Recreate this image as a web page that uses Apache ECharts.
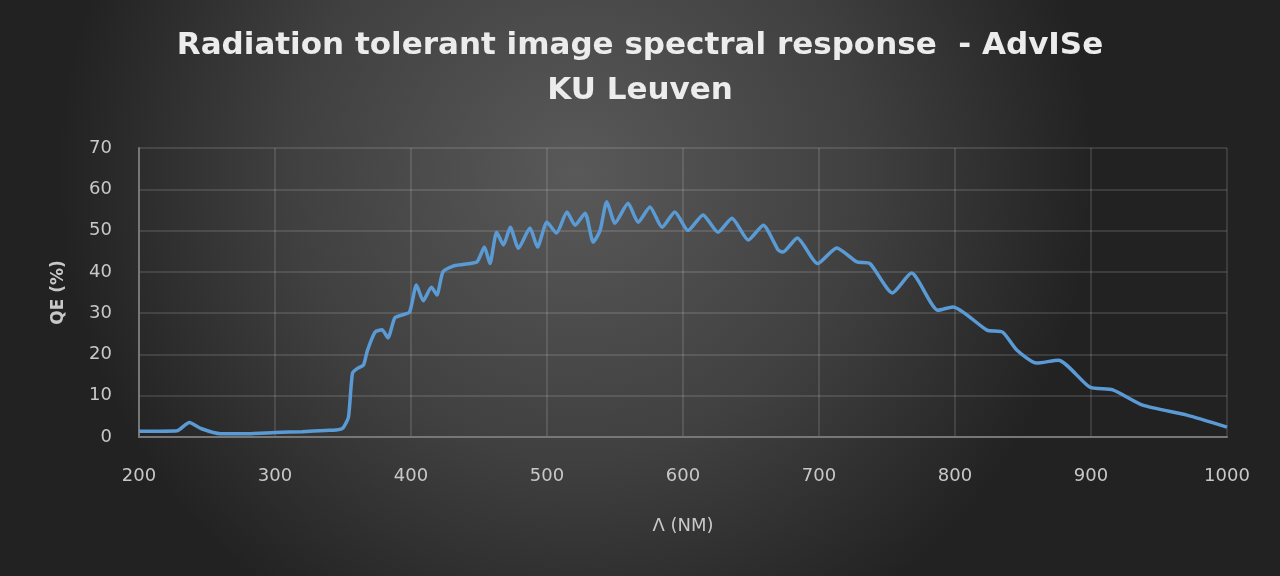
<!DOCTYPE html>
<html>
<head>
<meta charset="utf-8">
<script src="https://cdn.jsdelivr.net/npm/echarts@6/dist/echarts.min.js"></script>
<style>html,body{margin:0;padding:0;background:#333;}#c{width:1280px;height:576px;}</style>
</head>
<body>
<div id="c"></div>
<script>
var titleText = 'Radiation tolerant image spectral response  - AdvISe\nKU Leuven';
var xAxisName = 'Λ (NM)';
var yAxisName = 'QE (%)';
var wavelength = [200, 215, 228, 237, 246, 260, 280, 300, 320, 337, 345, 350, 354, 357, 361, 365, 368, 373.5, 378.7, 383, 388, 393, 399, 404, 409, 415, 419, 423.5, 431, 438, 448.5, 454, 458, 463, 468, 473, 479, 487.5, 493, 500, 507, 514.7, 520.6, 528, 534, 539, 544, 550, 559.6, 567, 575.7, 584.6, 594, 603.7, 614.7, 625.7, 636, 648, 659, 670, 673.5, 684, 699, 713, 728, 737.5, 754, 768, 787.5, 798.5, 823.5, 835, 845.6, 860, 876, 899, 916, 938, 970.6, 1000];
var qe = [1.4, 1.4, 1.5, 3.5, 2.0, 0.8, 0.8, 1.1, 1.3, 1.6, 1.7, 2.2, 4.8, 15.5, 16.7, 17.4, 21, 25.4, 26, 24, 28.8, 29.5, 30.3, 36.8, 33, 36.3, 34.4, 40, 41.4, 41.8, 42.4, 46, 42, 49.6, 46.5, 50.8, 45.7, 50.6, 46, 52, 49.4, 54.5, 51.3, 54.2, 47.2, 50, 57, 51.8, 56.6, 52, 55.7, 50.8, 54.5, 50, 53.8, 49.6, 53, 47.7, 51.3, 45.3, 44.8, 48.2, 42, 45.8, 42.4, 42, 34.9, 39.7, 30.7, 31.5, 25.9, 25.4, 21, 17.9, 18.6, 12.1, 11.4, 7.7, 5.3, 2.4];

var chart = echarts.init(document.getElementById('c'));
var pts = wavelength.map(function (w, i) { return [w, qe[i]]; });
chart.setOption({
  backgroundColor: {
    type: 'radial', x: 0.45, y: 0.3, r: 0.9,
    colorStops: [{offset: 0, color: '#595959'}, {offset: 0.55, color: '#404040'}, {offset: 1, color: '#222222'}]
  },
  animation: false,
  title: {
    text: titleText,
    left: 'center', top: 18,
    textStyle: {color: '#ececec', fontSize: 31, fontWeight: 'bold', fontFamily: 'DejaVu Sans', lineHeight: 45}
  },
  grid: {left: 139, right: 53, top: 148, bottom: 139},
  xAxis: {
    type: 'value', min: 200, max: 1000, interval: 100,
    name: xAxisName, nameLocation: 'middle', nameGap: 80,
    nameTextStyle: {color: '#c8c8c8', fontSize: 18, fontFamily: 'DejaVu Sans'},
    axisLine: {show: true, lineStyle: {color: '#777', width: 2}},
    axisTick: {show: false},
    axisLabel: {color: '#c8c8c8', fontSize: 18, margin: 30, fontFamily: 'DejaVu Sans', formatter: function (v) { return String(v); }},
    splitLine: {show: true, lineStyle: {color: 'rgba(255,255,255,0.16)', width: 1.5}}
  },
  yAxis: {
    type: 'value', min: 0, max: 70, interval: 10,
    name: yAxisName, nameLocation: 'middle', nameGap: 72, nameRotate: 90,
    nameTextStyle: {color: '#c8c8c8', fontSize: 17, fontWeight: 'bold', fontFamily: 'DejaVu Sans'},
    axisLine: {show: true, lineStyle: {color: '#777', width: 2}},
    axisTick: {show: false},
    axisLabel: {color: '#c8c8c8', fontSize: 18, margin: 27, fontFamily: 'DejaVu Sans'},
    splitLine: {show: true, lineStyle: {color: 'rgba(255,255,255,0.16)', width: 1.5}}
  },
  series: [{
    type: 'line', data: pts, showSymbol: false, smooth: 0.2,
    lineStyle: {color: '#5b9bd5', width: 3.5}
  }]
});
</script>
</body>
</html>
